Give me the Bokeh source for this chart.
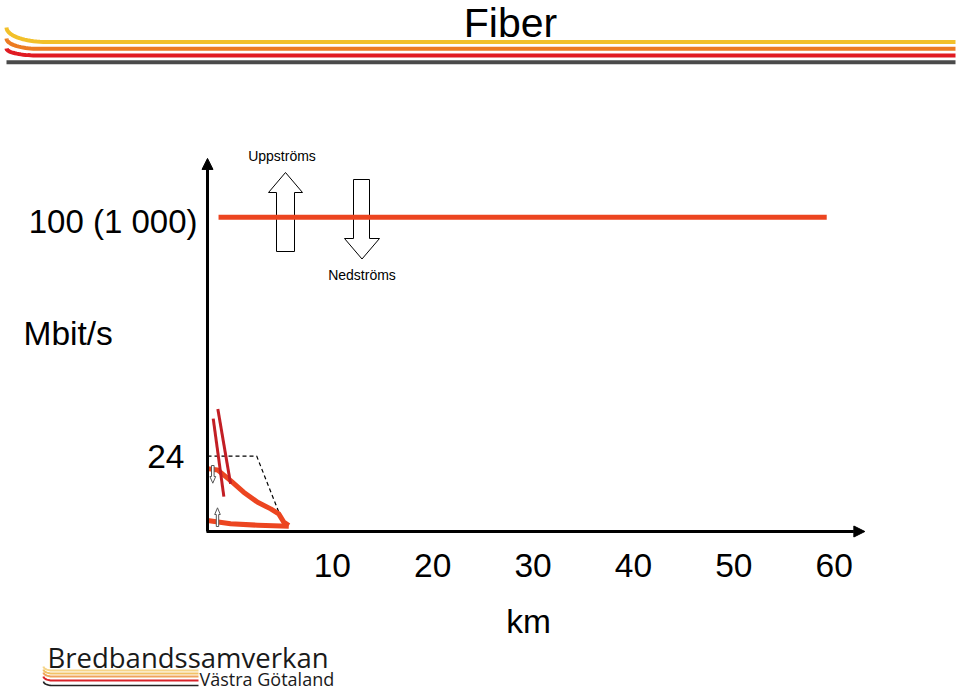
import numpy as np
from bokeh.plotting import figure
from bokeh.models import Range1d, Arrow, NormalHead
from bokeh.core.properties import value
from bokeh.embed import file_html
from bokeh.resources import INLINE

# ---------------- data (km / Mbit/s) ----------------
km_ticks = [10, 20, 30, 40, 50, 60]
km_tick_labels = ["10", "20", "30", "40", "50", "60"]
mbit_tick_24 = 24
mbit_tick_100 = 100

fiber_km = [1.1, 61.7]
fiber_mbit = [100, 100]

adsl_down_km = [0.0, 1.0, 2.3, 3.6, 5.0, 6.3, 7.1, 7.6, 8.1]
adsl_down_mbit = [20.0, 19.6, 16.2, 12.5, 9.3, 7.2, 5.6, 3.0, 1.9]

adsl_up_km = [0.0, 2.3, 5.0, 8.1]
adsl_up_mbit = [3.5, 2.45, 2.0, 1.7]

vdsl_a_km = [0.57, 1.63]
vdsl_a_mbit = [35.9, 11.1]
vdsl_b_km = [1.03, 2.3]
vdsl_b_mbit = [39.0, 15.2]

adsl_max_km = [0.0, 4.9, 7.3]
adsl_max_mbit = [24, 24, 4.6]

axis_x_end_km = 65.5
axis_y_end_mbit = 118.7

# ---------------- layout ----------------
W, H = 960, 692
ORIGIN_X, ORIGIN_Y = 207.0, 531.0
PX_PER_KM = 10.036
PX_PER_MB = 3.143
BL = 0.41  # baseline correction (fraction of font size)

km_range = Range1d((0 - ORIGIN_X) / PX_PER_KM, (W - ORIGIN_X) / PX_PER_KM)
mb_range = Range1d((ORIGIN_Y - H) / PX_PER_MB, (ORIGIN_Y - 0) / PX_PER_MB)

p = figure(width=W, height=H, x_range=Range1d(0, W), y_range=Range1d(H, 0),
           output_backend="svg", toolbar_location=None, min_border=0,
           x_axis_location=None, y_axis_location=None)
p.grid.visible = False
p.outline_line_color = None
p.background_fill_color = "white"
p.border_fill_color = "white"
p.extra_x_ranges = {"km": km_range}
p.extra_y_ranges = {"mb": mb_range}

FONT = value("Liberation Sans")
KM = dict(x_range_name="km", y_range_name="mb")


def txt(x, y, s, fs, align="left", font=FONT, color="black", **kw):
    p.text(x=[x], y=[y - BL * fs], text=[s], text_font=font, text_font_size=f"{fs}px",
           text_align=align, text_baseline="alphabetic", text_color=color, **kw)


def curl(x0, y0, x1, y1, xend, n=20):
    t = np.linspace(0, np.pi / 2, n)
    xs = list(x1 - (x1 - x0) * np.cos(t)) + [xend]
    ys = list(y0 + (y1 - y0) * np.sin(t)) + [y1]
    return xs, ys

# ---------------- header ----------------
for (x0, y0, x1, y1, col) in [(6, 27, 46, 41.5, "#F2C02A"),
                              (6, 38, 38, 48.3, "#EC7B22"),
                              (6, 48, 38, 55.0, "#E01B22")]:
    xs, ys = curl(x0, y0, x1, y1, 955)
    p.line(xs, ys, line_color=col, line_width=4)
p.line([6, 955], [61.7, 61.7], line_color="#4A4A4A", line_width=4)
txt(510, 39.5, "Fiber", 41, align="center")

# ---------------- footer logo ----------------
for (yy, col, lw) in [(670, "#F6D58A", 2), (673, "#F2C266", 2), (676, "#EFA35C", 2),
                      (680, "#D8232A", 2), (685, "#222222", 1.6)]:
    xs, ys = curl(43, yy - 4, 52, yy, 198, n=8)
    p.line(xs, ys, line_color=col, line_width=lw)
txt(47, 668, "Bredbandssamverkan", 27.5, font=value("Open Sans"), color="#1A1A1A")
txt(199, 686, "Västra Götaland", 18, font=value("Open Sans"), color="#1A1A1A")

# ---------------- big hollow arrows ----------------
up_x = [276, 294, 294, 302, 285, 268, 276]
up_y = [251, 251, 192, 192, 172, 192, 192]
dn_x = [353, 369, 369, 379, 361.5, 344, 353]
dn_y = [179, 179, 238, 238, 258.5, 238, 238]
p.patch(up_x, up_y, fill_color="white", line_color="black", line_width=1)
p.patch(dn_x, dn_y, fill_color="white", line_color="black", line_width=1)
txt(281.5, 161, "Uppströms", 14, align="center")
txt(361.5, 280, "Nedströms", 14, align="center")

# ---------------- chart data ----------------
ORANGE = "#EC4520"
DARKRED = "#C21E24"
p.line(fiber_km, fiber_mbit, line_color=ORANGE, line_width=5, **KM)
p.line(adsl_max_km, adsl_max_mbit, line_color="black", line_width=1.2, line_dash="4 3", **KM)
p.line(adsl_down_km, adsl_down_mbit, line_color=ORANGE, line_width=5, line_join="round", **KM)
p.line(adsl_up_km, adsl_up_mbit, line_color=ORANGE, line_width=5, line_join="round", **KM)
p.line(vdsl_a_km, vdsl_a_mbit, line_color=DARKRED, line_width=3, **KM)
p.line(vdsl_b_km, vdsl_b_mbit, line_color=DARKRED, line_width=3, **KM)

# small hollow arrows
sd_x = [211, 213.6, 213.6, 215.2, 212.3, 209.4, 211]
sd_y = [465, 465, 476, 476, 482.7, 476, 476]
su_x = [215.8, 218.2, 218.2, 219.8, 217, 214.2, 215.8]
su_y = [526, 526, 514, 514, 507.3, 514, 514]
p.patch(sd_x, sd_y, fill_color="white", line_color="#555555", line_width=1)
p.patch(su_x, su_y, fill_color="white", line_color="#555555", line_width=1)

# ---------------- axes ----------------
p.add_layout(Arrow(x_start=0, y_start=0, x_end=0, y_end=axis_y_end_mbit, line_width=3,
                   line_color="black",
                   end=NormalHead(size=11, fill_color="black", line_color="black", line_width=1),
                   **KM))
p.add_layout(Arrow(x_start=-0.1, y_start=0, x_end=axis_x_end_km, y_end=0, line_width=3,
                   line_color="black",
                   end=NormalHead(size=11, fill_color="black", line_color="black", line_width=1),
                   **KM))

TFS = 33.5
p.text(x=km_ticks, y=[0] * len(km_ticks), text=km_tick_labels, text_font=FONT,
       text_font_size=f"{TFS}px", text_align="center", text_baseline="alphabetic",
       x_offset=24.5, y_offset=48 - BL * TFS, text_color="black", **KM)
p.text(x=[0], y=[mbit_tick_24], text=["24"], text_font=FONT, text_font_size=f"{TFS}px",
       text_align="right", text_baseline="alphabetic", x_offset=-23, y_offset=13.7 - BL * TFS,
       text_color="black", **KM)
p.text(x=[0], y=[mbit_tick_100], text=["100 (1 000)"], text_font=FONT, text_font_size="33px",
       text_align="right", text_baseline="alphabetic", x_offset=-10, y_offset=18.3 - BL * 33,
       text_color="black", **KM)
txt(23, 346.5, "Mbit/s", 33.5)
txt(528, 635, "km", 33.5, align="center")

open("out.html", "w").write(file_html(p, INLINE))
